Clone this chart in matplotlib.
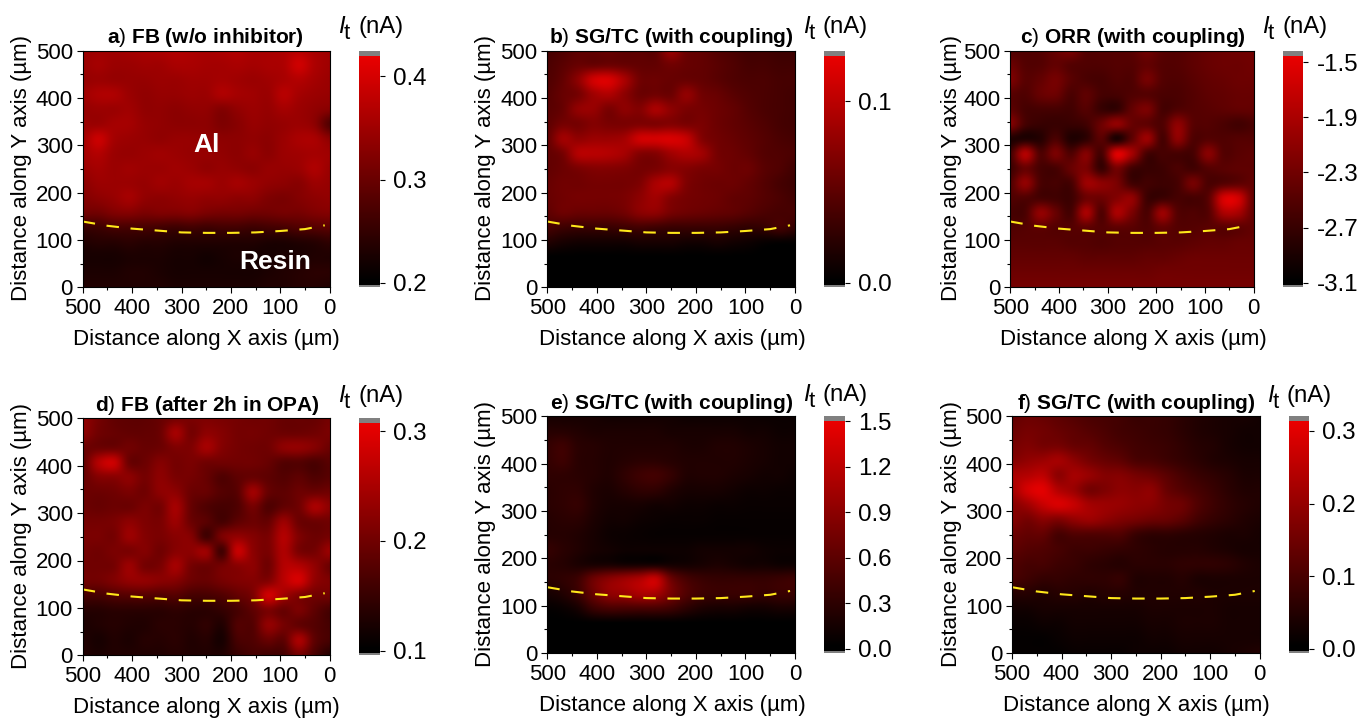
import numpy as np
import matplotlib
matplotlib.use('Agg')
import matplotlib.pyplot as plt
from matplotlib.colors import LinearSegmentedColormap, Normalize
from matplotlib.cm import ScalarMappable
from matplotlib.ticker import MultipleLocator

plt.rcParams['font.family'] = ['Liberation Sans', 'DejaVu Sans']
plt.rcParams['mathtext.fontset'] = 'custom'
plt.rcParams['mathtext.rm'] = 'Liberation Sans'
plt.rcParams['mathtext.it'] = 'Liberation Sans:italic'
plt.rcParams['mathtext.bf'] = 'Liberation Sans:bold'

W, H = 1360, 718

# map levels (0 black .. 100 full red)
# rows go y=500 -> 0 in 31.25 um steps, columns x=500 -> 0
levels_a = [
    [66, 68, 68, 70, 72, 74, 76, 74, 72, 74, 76, 72, 72, 74, 78, 72, 68],
    [66, 70, 66, 66, 68, 68, 72, 72, 70, 70, 72, 70, 72, 74, 88, 74, 68],
    [64, 66, 64, 64, 64, 66, 66, 68, 68, 70, 68, 66, 68, 72, 76, 70, 66],
    [68, 74, 74, 66, 62, 64, 64, 66, 66, 74, 70, 68, 66, 78, 70, 66, 64],
    [64, 66, 66, 68, 62, 62, 60, 62, 62, 56, 62, 66, 64, 70, 66, 62, 58],
    [66, 66, 70, 70, 64, 62, 60, 60, 60, 54, 58, 64, 62, 64, 66, 60, 35],
    [70, 86, 70, 66, 64, 62, 64, 64, 62, 60, 60, 62, 60, 66, 72, 72, 60],
    [70, 76, 66, 64, 66, 68, 66, 64, 64, 62, 60, 64, 60, 66, 68, 70, 68],
    [66, 70, 66, 68, 66, 66, 68, 66, 62, 64, 62, 60, 64, 64, 66, 74, 66],
    [60, 66, 66, 66, 64, 68, 66, 70, 70, 66, 70, 66, 62, 60, 58, 66, 64],
    [56, 60, 64, 70, 62, 60, 62, 64, 62, 62, 60, 60, 54, 52, 56, 60, 62],
    [48, 48, 54, 56, 52, 54, 54, 56, 52, 50, 50, 48, 48, 50, 50, 54, 56],
    [24, 26, 30, 30, 30, 28, 26, 28, 26, 28, 28, 26, 28, 30, 34, 36, 38],
    [14, 16, 16, 18, 16, 16, 14, 14, 14, 14, 14, 14, 12, 12, 14, 16, 20],
    [10, 10, 10, 12, 12, 12, 10, 10, 8, 10, 12, 10, 10, 12, 12, 14, 14],
    [12, 12, 12, 14, 14, 12, 10, 10, 10, 10, 10, 10, 12, 14, 16, 18, 18],
    [14, 14, 14, 14, 14, 14, 12, 12, 12, 12, 12, 12, 14, 14, 16, 16, 14],
]
levels_b = [
    [30, 34, 40, 42, 44, 40, 40, 40, 66, 46, 42, 36, 32, 28, 28, 26, 26],
    [32, 38, 44, 44, 46, 44, 42, 42, 48, 44, 42, 38, 34, 30, 30, 28, 28],
    [34, 42, 60, 88, 92, 72, 48, 46, 44, 44, 42, 38, 34, 32, 32, 30, 30],
    [36, 44, 50, 68, 74, 60, 46, 48, 46, 62, 48, 44, 38, 34, 32, 30, 28],
    [38, 44, 62, 64, 52, 60, 56, 72, 60, 52, 50, 46, 42, 36, 32, 30, 28],
    [40, 50, 50, 56, 52, 52, 54, 54, 56, 52, 52, 46, 42, 38, 34, 30, 28],
    [42, 68, 62, 66, 66, 70, 88, 90, 92, 84, 56, 48, 44, 40, 36, 32, 30],
    [42, 50, 76, 78, 76, 70, 56, 56, 68, 74, 68, 50, 46, 42, 36, 34, 32],
    [42, 46, 52, 56, 56, 54, 50, 52, 58, 56, 52, 50, 46, 46, 38, 34, 28],
    [44, 48, 48, 50, 50, 50, 54, 72, 76, 54, 48, 46, 46, 42, 36, 30, 26],
    [44, 48, 50, 50, 50, 52, 60, 68, 56, 50, 48, 46, 42, 40, 36, 32, 28],
    [40, 46, 44, 44, 44, 48, 58, 60, 50, 46, 44, 42, 40, 36, 32, 30, 30],
    [30, 26, 24, 24, 24, 26, 28, 26, 24, 24, 24, 24, 22, 20, 22, 28, 22],
    [14, 10, 8, 8, 8, 8, 10, 10, 10, 8, 8, 10, 8, 6, 3, 2, 2],
    [0, 0, 0, 0, 0, 0, 0, 0, 0, 0, 0, 0, 0, 0, 0, 0, 0],
    [0, 0, 0, 0, 0, 0, 0, 0, 0, 0, 0, 0, 0, 0, 0, 0, 0],
    [0, 0, 0, 0, 0, 0, 0, 0, 0, 0, 0, 0, 0, 0, 0, 0, 0],
]
levels_c = [
    [34, 34, 36, 44, 52, 36, 36, 36, 38, 48, 38, 36, 40, 44, 46, 48, 48],
    [46, 36, 36, 42, 36, 34, 34, 36, 36, 42, 36, 36, 40, 44, 46, 46, 48],
    [54, 38, 42, 50, 38, 32, 30, 34, 34, 50, 36, 34, 38, 42, 44, 46, 46],
    [38, 34, 44, 46, 32, 40, 30, 30, 34, 36, 32, 32, 36, 40, 42, 44, 44],
    [40, 30, 30, 30, 28, 36, 24, 22, 42, 52, 30, 34, 36, 38, 40, 42, 42],
    [56, 30, 24, 24, 24, 28, 46, 62, 44, 40, 34, 60, 38, 36, 32, 28, 32],
    [14, 14, 16, 32, 14, 20, 38, 12, 40, 66, 30, 60, 34, 36, 34, 36, 36],
    [28, 76, 34, 52, 34, 56, 30, 94, 70, 30, 30, 30, 30, 58, 36, 38, 40],
    [26, 44, 30, 30, 44, 52, 24, 50, 28, 24, 26, 32, 28, 36, 38, 40, 40],
    [34, 62, 32, 30, 30, 66, 60, 52, 28, 28, 26, 30, 50, 32, 36, 40, 42],
    [34, 34, 30, 28, 26, 46, 46, 56, 62, 26, 26, 30, 30, 38, 90, 88, 42],
    [30, 32, 62, 44, 30, 72, 34, 72, 52, 32, 66, 36, 34, 36, 72, 70, 42],
    [34, 36, 40, 36, 36, 40, 36, 40, 38, 34, 42, 36, 36, 38, 38, 40, 42],
    [38, 38, 38, 38, 36, 36, 34, 36, 36, 36, 38, 38, 40, 42, 42, 44, 44],
    [42, 42, 42, 42, 42, 40, 40, 40, 40, 42, 42, 44, 46, 46, 46, 46, 46],
    [46, 46, 46, 46, 46, 46, 46, 46, 46, 46, 48, 48, 48, 48, 48, 48, 48],
    [50, 50, 50, 50, 50, 50, 50, 50, 50, 50, 50, 50, 50, 50, 50, 50, 50],
]
levels_d = [
    [62, 50, 42, 40, 40, 44, 50, 52, 54, 52, 50, 48, 48, 44, 44, 44, 50],
    [60, 48, 44, 42, 42, 46, 70, 50, 60, 56, 50, 50, 48, 46, 46, 48, 52],
    [46, 46, 46, 48, 44, 46, 54, 54, 70, 56, 50, 48, 48, 60, 62, 56, 46],
    [42, 76, 86, 46, 46, 56, 50, 52, 48, 48, 48, 48, 44, 36, 36, 32, 38],
    [44, 56, 58, 60, 50, 60, 52, 50, 44, 34, 40, 44, 40, 36, 40, 34, 38],
    [46, 46, 48, 52, 48, 60, 60, 46, 44, 36, 38, 68, 44, 40, 46, 46, 48],
    [46, 44, 46, 46, 52, 50, 70, 44, 34, 30, 34, 50, 34, 42, 48, 72, 60],
    [50, 50, 52, 60, 54, 52, 66, 46, 38, 30, 40, 46, 44, 66, 46, 46, 48],
    [52, 52, 50, 66, 56, 52, 58, 56, 28, 52, 62, 56, 52, 76, 54, 46, 50],
    [50, 48, 52, 52, 56, 48, 58, 60, 66, 28, 84, 60, 52, 74, 52, 50, 66],
    [48, 48, 50, 66, 50, 52, 70, 50, 46, 50, 58, 60, 48, 76, 76, 62, 46],
    [48, 48, 54, 62, 62, 58, 56, 46, 44, 50, 54, 56, 56, 78, 90, 62, 54],
    [30, 30, 34, 36, 36, 34, 36, 30, 30, 34, 42, 52, 88, 68, 54, 48, 48],
    [16, 16, 18, 18, 18, 18, 20, 18, 18, 22, 30, 40, 52, 44, 52, 40, 30],
    [12, 14, 16, 14, 14, 18, 18, 16, 20, 14, 34, 36, 62, 50, 42, 36, 30],
    [14, 10, 14, 12, 16, 16, 18, 14, 16, 10, 30, 34, 44, 40, 72, 40, 30],
    [14, 12, 14, 14, 14, 14, 16, 14, 14, 14, 24, 30, 28, 30, 50, 32, 16],
]
levels_e = [
    [10, 10, 10, 10, 8, 8, 8, 8, 8, 6, 6, 6, 6, 6, 5, 5, 5],
    [16, 16, 14, 12, 12, 12, 12, 12, 10, 10, 10, 10, 10, 8, 8, 6, 6],
    [22, 26, 18, 16, 14, 14, 14, 14, 14, 12, 12, 14, 14, 12, 10, 8, 8],
    [22, 26, 18, 16, 14, 16, 18, 18, 16, 14, 14, 14, 14, 12, 10, 8, 8],
    [20, 20, 18, 16, 14, 20, 26, 28, 22, 14, 14, 14, 12, 10, 8, 8, 6],
    [18, 20, 20, 14, 12, 16, 20, 20, 14, 10, 10, 10, 8, 6, 6, 5, 5],
    [18, 20, 22, 14, 10, 10, 10, 8, 8, 6, 6, 5, 5, 4, 4, 4, 4],
    [16, 18, 18, 12, 8, 8, 6, 5, 4, 4, 4, 3, 3, 3, 3, 3, 3],
    [16, 16, 14, 10, 6, 5, 4, 3, 3, 3, 3, 3, 3, 3, 3, 3, 3],
    [22, 18, 14, 10, 8, 6, 6, 6, 6, 6, 8, 8, 8, 8, 6, 5, 5],
    [18, 16, 12, 10, 10, 8, 8, 8, 8, 8, 10, 12, 10, 8, 8, 6, 6],
    [18, 20, 26, 46, 58, 66, 74, 84, 46, 30, 24, 22, 22, 22, 22, 24, 26],
    [10, 14, 24, 44, 60, 64, 72, 70, 50, 34, 26, 24, 24, 24, 22, 24, 24],
    [2, 4, 10, 24, 30, 30, 30, 30, 26, 18, 12, 10, 10, 8, 8, 10, 10],
    [0, 0, 0, 0, 0, 0, 0, 0, 0, 0, 0, 0, 0, 0, 0, 0, 0],
    [0, 0, 0, 0, 0, 0, 0, 0, 0, 0, 0, 0, 0, 0, 0, 0, 0],
    [0, 0, 0, 0, 0, 0, 0, 0, 0, 0, 0, 0, 0, 0, 0, 0, 0],
]
levels_f = [
    [42, 46, 44, 40, 36, 32, 30, 28, 24, 24, 22, 18, 14, 12, 10, 10, 8],
    [46, 50, 48, 44, 40, 36, 32, 28, 26, 24, 22, 18, 14, 12, 10, 8, 8],
    [50, 54, 50, 50, 44, 42, 36, 32, 28, 26, 24, 20, 16, 14, 10, 8, 8],
    [56, 62, 66, 70, 60, 50, 44, 40, 32, 30, 26, 22, 18, 14, 12, 10, 10],
    [72, 76, 80, 60, 70, 64, 56, 56, 50, 46, 38, 30, 24, 20, 16, 12, 12],
    [70, 90, 96, 76, 66, 50, 54, 60, 58, 60, 44, 36, 30, 24, 18, 14, 14],
    [58, 68, 84, 92, 84, 70, 66, 64, 60, 58, 50, 46, 34, 26, 20, 16, 14],
    [56, 50, 58, 54, 62, 66, 60, 54, 50, 46, 44, 38, 28, 22, 18, 14, 12],
    [46, 42, 42, 30, 34, 34, 34, 34, 24, 20, 20, 18, 16, 14, 12, 12, 10],
    [40, 36, 34, 30, 26, 26, 24, 22, 20, 18, 16, 16, 16, 14, 12, 10, 10],
    [34, 30, 30, 26, 24, 20, 18, 16, 18, 18, 18, 20, 20, 20, 18, 14, 12],
    [30, 26, 22, 22, 20, 20, 20, 22, 14, 14, 14, 16, 12, 12, 12, 12, 12],
    [16, 16, 14, 16, 16, 14, 16, 16, 14, 14, 14, 14, 14, 12, 12, 12, 12],
    [8, 8, 10, 10, 10, 10, 10, 10, 10, 12, 12, 12, 12, 12, 10, 10, 10],
    [4, 4, 6, 6, 8, 8, 8, 8, 8, 10, 10, 12, 12, 12, 10, 10, 10],
    [2, 2, 2, 4, 6, 6, 6, 6, 6, 8, 8, 10, 10, 10, 10, 10, 10],
    [2, 2, 2, 2, 4, 4, 4, 4, 6, 6, 6, 8, 8, 8, 10, 12, 14],
]

# resin / Al boundary
boundary_x = [500, 450, 400, 350, 300, 250, 200, 150, 100, 50, 10]
boundary_y = [139, 130, 124, 120, 116, 115, 115, 116, 119, 123, 131]

titles = [r'$\mathbf{a}$) $\mathbf{FB\ (w/o\ inhibitor)}$',
          r'$\mathbf{b}$) $\mathbf{SG/TC\ (with\ coupling)}$',
          r'$\mathbf{c}$) $\mathbf{ORR\ (with\ coupling)}$',
          r'$\mathbf{d}$) $\mathbf{FB\ (after\ 2h\ in\ OPA)}$',
          r'$\mathbf{e}$) $\mathbf{SG/TC\ (with\ coupling)}$',
          r'$\mathbf{f}$) $\mathbf{SG/TC\ (with\ coupling)}$']
all_levels = [levels_a, levels_b, levels_c, levels_d, levels_e, levels_f]

# colour scale ends (nA) and colorbar ticks
scale_min = [0.1955, -0.0025, -3.133, 0.0958, -0.028, -0.006]
scale_max = [0.425, 0.1277, -1.418, 0.3116, 1.531, 0.3202]
cbar_ticks = [[0.2, 0.3, 0.4], [0.0, 0.1], [-3.1, -2.7, -2.3, -1.9, -1.5],
              [0.1, 0.2, 0.3], [0.0, 0.3, 0.6, 0.9, 1.2, 1.5],
              [0.0, 0.1, 0.2, 0.3]]

# layout in image pixels: axes (left, right, top, bottom), colorbar (left, right)
ax_px = [(82.7, 329.7, 50.7, 287.3), (547.3, 795, 50.7, 287.3),
         (1010.3, 1253.7, 50.7, 287.3), (82.7, 329.7, 418.3, 655.3),
         (547.3, 795, 416.3, 653), (1012, 1259.7, 416.3, 653)]
cb_px = [(359.3, 379.7), (824.3, 844.7), (1283, 1302.7),
         (359.3, 379.7), (824.3, 844.7), (1289, 1308.7)]
title_px = [(205, 43.3), (671, 43.3), (1133, 43.3),
            (207, 410.7), (672, 409), (1136, 409)]
xlabel_px = [(206, 340), (672, 340), (1133, 340),
             (206, 707), (672, 706), (1136, 706)]
ylabel_px = [(22, 168), (486, 168), (952, 168),
             (22, 536), (486, 534), (952, 534)]
unit_px = [(338, 33), (803, 33), (1262, 33),
           (338, 402), (803, 401), (1267, 402)]

redmap = LinearSegmentedColormap.from_list('blackred', [
    (0.0, (0.5, 0.5, 0.5)), (0.006, (0.5, 0.5, 0.5)), (0.0061, (0, 0, 0)),
    (0.03, (0, 0, 0)), (0.98, (0.92, 0, 0)), (0.9801, (0.5, 0.5, 0.5)),
    (1.0, (0.5, 0.5, 0.5))], N=512)


def px_rect(left, right, top, bottom):
    return [left / W, 1 - bottom / H, (right - left) / W, (bottom - top) / H]


def fx(x):
    return x / W


def fy(y):
    return 1 - y / H


fig = plt.figure(figsize=(W / 100, H / 100), dpi=100)
half = 500 / 16 / 2

for i in range(6):
    ax = fig.add_axes(px_rect(*ax_px[i]))
    vmin, vmax = scale_min[i], scale_max[i]
    # levels -> nA, keep clear of the grey end caps of the bar
    values = vmin + (vmax - vmin) * (0.03 + np.array(all_levels[i]) * 0.0095)
    im = ax.imshow(values, cmap=redmap, norm=Normalize(vmin, vmax), aspect='auto',
                   interpolation='catrom',
                   extent=[500 + half, -half, -half, 500 + half])
    ax.set_xlim(500, 0)
    ax.set_ylim(0, 500)
    ax.plot(boundary_x, boundary_y, color='#FFE81A', lw=1.5, dashes=(6, 5.6))

    ax.xaxis.set_major_locator(MultipleLocator(100))
    ax.xaxis.set_minor_locator(MultipleLocator(50))
    ax.yaxis.set_major_locator(MultipleLocator(100))
    ax.yaxis.set_minor_locator(MultipleLocator(50))
    ax.tick_params(which='major', length=4, width=0.8, labelsize=16, pad=3)
    ax.tick_params(which='minor', length=2.2, width=0.8)
    ax.tick_params(axis='x', which='major', pad=4)
    for s in ax.spines.values():
        s.set_linewidth(0.8)

    cax = fig.add_axes(px_rect(cb_px[i][0], cb_px[i][1], ax_px[i][2], ax_px[i][3]))
    cb = fig.colorbar(ScalarMappable(norm=Normalize(vmin, vmax), cmap=redmap), cax=cax)
    cb.set_ticks(cbar_ticks[i])
    cb.ax.set_yticklabels(['%.1f' % t for t in cbar_ticks[i]])
    cb.ax.tick_params(length=3.4, width=0.8, labelsize=17.4, pad=6.5)
    cb.outline.set_visible(False)

    tx, ty = title_px[i]
    fig.text(fx(tx), fy(ty), titles[i], ha='center', va='baseline', fontsize=15)
    lx, ly = xlabel_px[i]
    fig.text(fx(lx), fy(ly), 'Distance along X axis (µm)', ha='center', va='center', fontsize=16)
    lx, ly = ylabel_px[i]
    fig.text(fx(lx), fy(ly), 'Distance along Y axis (µm)', ha='center', va='center',
             rotation=90, fontsize=16)

    # I_t (nA) header over the colorbar
    ux, uy = unit_px[i]
    fig.text(fx(ux), fy(uy), 'I', style='italic', ha='left', va='baseline', fontsize=17.2)
    fig.text(fx(ux + 6), fy(uy + 6), 't', ha='left', va='baseline', fontsize=16)
    fig.text(fx(ux + 20), fy(uy), '(nA)', ha='left', va='baseline', fontsize=17.2)

    if i == 0:
        ax.text(0.5, 0.6, 'Al', color='white', weight='bold', fontsize=19,
                ha='center', va='center', transform=ax.transAxes)
        ax.text(0.78, 0.105, 'Resin', color='white', weight='bold', fontsize=19,
                ha='center', va='center', transform=ax.transAxes)

fig.savefig('out.png', dpi=100)
